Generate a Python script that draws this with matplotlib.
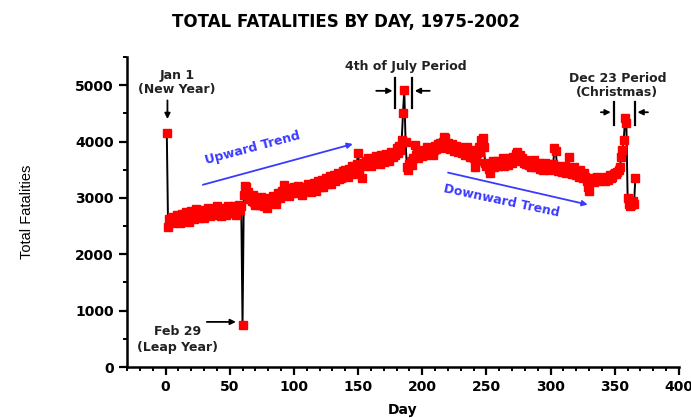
import matplotlib.pyplot as plt
import numpy as np

plt.rcParams['font.family'] = ['DejaVu Sans']

# daily totals, day 1 = Jan 1, day 60 = Feb 29, day 366 = Dec 31
fatalities = [
    4150, 2480, 2620, 2580, 2660, 2550, 2640, 2600, 2700, 2620,
    2560, 2650, 2720, 2600, 2680, 2750, 2640, 2580, 2700, 2760,
    2680, 2620, 2740, 2800, 2700, 2650, 2720, 2680, 2780, 2640,
    2700, 2760, 2820, 2720, 2680, 2750, 2800, 2700, 2760, 2850,
    2730, 2790, 2680, 2760, 2820, 2740, 2700, 2800, 2850, 2760,
    2820, 2740, 2860, 2790, 2700, 2830, 2880, 2780, 2850, 740,
    3050, 3220, 3200, 3100, 2980, 3020, 2950, 3060, 2920, 2880,
    2990, 2940, 2870, 3010, 2960, 2900, 2850, 2930, 2820, 2960,
    3000, 2920, 2960, 3040, 2980, 2900, 3020, 3080, 2990, 3050,
    3120, 3230, 3060, 3100, 3180, 3040, 3120, 3080, 3160, 3200,
    3090, 3150, 3210, 3110, 3170, 3060, 3140, 3200, 3120, 3180,
    3240, 3150, 3100, 3210, 3170, 3260, 3130, 3220, 3300, 3190,
    3260, 3320, 3200, 3280, 3350, 3240, 3300, 3390, 3250, 3340,
    3410, 3300, 3380, 3450, 3340, 3420, 3360, 3480, 3400, 3500,
    3440, 3380, 3520, 3460, 3560, 3420, 3540, 3480, 3600, 3800,
    3520, 3580, 3350, 3620, 3560, 3650, 3590, 3700, 3620, 3560,
    3680, 3620, 3700, 3740, 3650, 3720, 3600, 3760, 3680, 3640,
    3720, 3780, 3700, 3650, 3760, 3820, 3720, 3800, 3760, 3880,
    3800, 3920, 3850, 4020, 4500, 4920, 4000, 3550, 3500, 3600,
    3650, 3580, 3700, 3940, 3760, 3820, 3700, 3780, 3850, 3740,
    3800, 3760, 3840, 3900, 3780, 3820, 3880, 3760, 3850, 3920,
    3860, 3950, 3900, 3980, 3880, 4000, 4080, 4060, 3920, 3980,
    3900, 3860, 3950, 3900, 3840, 3920, 3880, 3820, 3900, 3860,
    3800, 3880, 3760, 3840, 3900, 3780, 3720, 3850, 3760, 3700,
    3550, 3660, 3800, 3900, 3820, 4020, 4060, 3900, 3620, 3560,
    3600, 3520, 3440, 3580, 3650, 3540, 3600, 3660, 3560, 3620,
    3580, 3640, 3700, 3560, 3620, 3660, 3590, 3700, 3640, 3620,
    3720, 3680, 3780, 3820, 3700, 3760, 3650, 3700, 3620, 3680,
    3600, 3660, 3580, 3620, 3550, 3600, 3680, 3540, 3600, 3560,
    3620, 3520, 3580, 3500, 3560, 3620, 3540, 3600, 3500, 3560,
    3520, 3600, 3880, 3840, 3560, 3480, 3540, 3520, 3460, 3500,
    3560, 3440, 3520, 3720, 3460, 3500, 3420, 3540, 3480, 3400,
    3460, 3380, 3500, 3420, 3360, 3440, 3380, 3300, 3200, 3120,
    3300, 3360, 3340, 3280, 3320, 3380, 3340, 3300, 3360, 3320,
    3340, 3300, 3380, 3360, 3320, 3400, 3350, 3380, 3420, 3440,
    3420, 3460, 3500, 3540, 3720, 3850, 4030, 4420, 4330, 3000,
    2900, 2850, 2870, 2950, 2900, 3350,
]
days = np.arange(1, len(fatalities) + 1)

fig = plt.figure(figsize=(6.91, 4.18), dpi=100)
ax = fig.add_axes([0.1838, 0.122, 0.7988, 0.7416])

ax.plot(days, fatalities, color='black', lw=1.4, zorder=2)
ax.plot(days, fatalities, 's', color='#ff0000', ms=5.2, mec='#ff0000', zorder=3)

ax.set_xlim(-30, 400)
ax.set_ylim(0, 5500)
ax.set_xticks(np.arange(0, 401, 50))
ax.set_xticks(np.arange(-30, 401, 10), minor=True)
ax.set_yticks(np.arange(0, 5001, 1000))
ax.set_yticks(np.arange(0, 5501, 500), minor=True)
for s in ['top', 'right']:
    ax.spines[s].set_visible(False)
for s in ['left', 'bottom']:
    ax.spines[s].set_linewidth(1.8)
ax.tick_params(which='major', length=6, width=1.6, labelsize=10)
ax.tick_params(which='minor', length=3, width=1.4)
for lab in ax.get_xticklabels() + ax.get_yticklabels():
    lab.set_fontweight('bold')

ax.set_xlabel('Day', fontsize=10, fontweight='bold', labelpad=6)
ax.set_ylabel('Total Fatalities', fontsize=10.5, labelpad=30,
              family=['Liberation Sans'])
fig.suptitle('TOTAL FATALITIES BY DAY, 1975-2002', x=0.5, y=0.968,
             fontsize=12, fontweight='bold')

akw = dict(fontsize=9, fontweight='bold', ha='center', va='center', color='#222222')
arr = dict(arrowstyle='-|>', color='black', lw=1.3, mutation_scale=8)

# Jan 1
ax.text(9, 5050, 'Jan 1\n(New Year)', linespacing=1.1, **akw)
ax.annotate('', xy=(1.5, 4350), xytext=(1.5, 4780), arrowprops=arr)

# Feb 29
ax.text(9, 480, 'Feb 29\n(Leap Year)', linespacing=1.3, **akw)
ax.annotate('', xy=(57, 800), xytext=(30, 800), arrowprops=arr)

# 4th of July
ax.text(187, 5330, '4th of July Period', **akw)
ax.plot([179, 179], [4600, 5130], color='black', lw=1.6)
ax.plot([192, 192], [4600, 5130], color='black', lw=1.6)
ax.annotate('', xy=(179, 4900), xytext=(162, 4900), arrowprops=arr)
ax.annotate('', xy=(192, 4900), xytext=(208, 4900), arrowprops=arr)

# Christmas
ax.text(352, 4990, 'Dec 23 Period\n(Christmas)', linespacing=1.1, **akw)
ax.plot([349, 349], [4290, 4700], color='black', lw=1.6)
ax.plot([365.5, 365.5], [4290, 4700], color='black', lw=1.6)
ax.annotate('', xy=(349, 4520), xytext=(337, 4520), arrowprops=arr)
ax.annotate('', xy=(365.5, 4520), xytext=(378, 4520), arrowprops=arr)

# trends
blue = '#3a3aff'
barr = dict(arrowstyle='-|>', color=blue, lw=1.3, mutation_scale=8)
ax.annotate('', xy=(148, 3970), xytext=(27, 3220), arrowprops=barr)
ax.text(68, 3880, 'Upward Trend', color=blue, fontsize=9, fontweight='bold',
        rotation=15, ha='center', va='center')
ax.annotate('', xy=(331, 2870), xytext=(218, 3460), arrowprops=barr)
ax.text(262, 2950, 'Downward Trend', color=blue, fontsize=9, fontweight='bold',
        rotation=-12, ha='center', va='center')

fig.savefig('out.png', dpi=100)
